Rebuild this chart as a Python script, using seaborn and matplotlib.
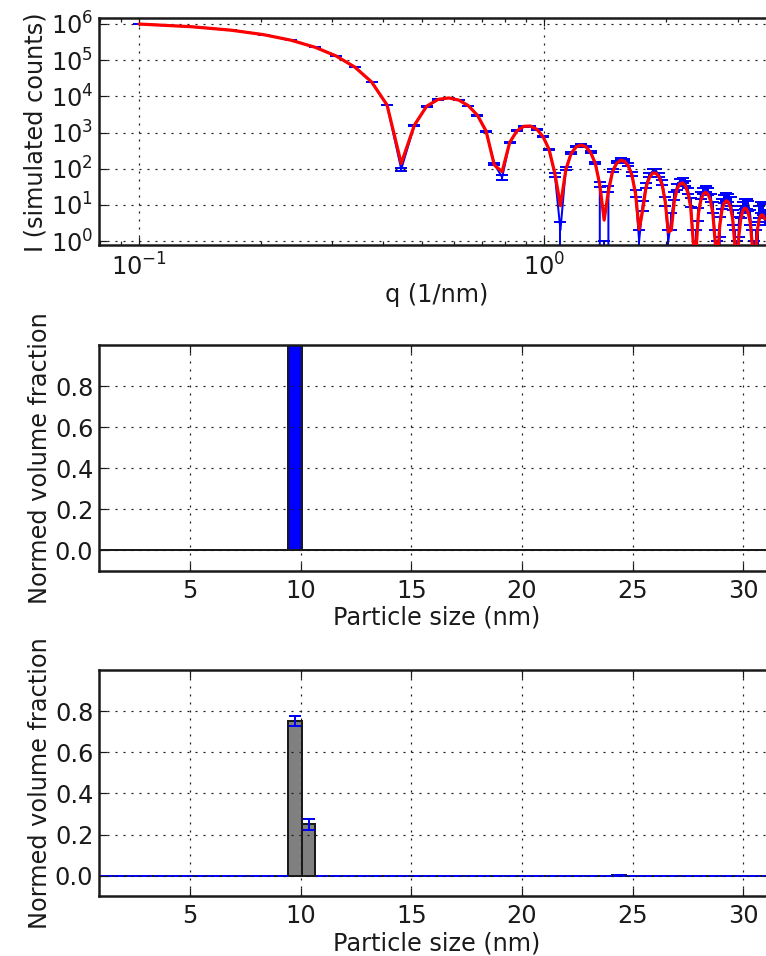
import numpy as np
import matplotlib
matplotlib.use("Agg")
import matplotlib.pyplot as plt
import seaborn as sns

# scattering vector (1/nm)
q = [0.1000, 0.1343, 0.1687, 0.2030, 0.2374, 0.2717, 0.3061, 0.3404, 0.3747, 0.4091,
     0.4434, 0.4778, 0.5121, 0.5465, 0.5808, 0.6152, 0.6495, 0.6838, 0.7182, 0.7525,
     0.7869, 0.8212, 0.8556, 0.8899, 0.9242, 0.9586, 0.9929, 1.0273, 1.0616, 1.0960,
     1.1303, 1.1646, 1.1990, 1.2333, 1.2677, 1.3020, 1.3364, 1.3707, 1.4051, 1.4394,
     1.4737, 1.5081, 1.5424, 1.5768, 1.6111, 1.6455, 1.6798, 1.7141, 1.7485, 1.7828,
     1.8172, 1.8515, 1.8859, 1.9202, 1.9545, 1.9889, 2.0232, 2.0576, 2.0919, 2.1263,
     2.1606, 2.1949, 2.2293, 2.2636, 2.2980, 2.3323, 2.3667, 2.4010, 2.4354, 2.4697,
     2.5040, 2.5384, 2.5727, 2.6071, 2.6414, 2.6758, 2.7101, 2.7444, 2.7788, 2.8131,
     2.8475, 2.8818, 2.9162, 2.9505, 2.9848, 3.0192, 3.0535, 3.0879, 3.1222, 3.1566,
     3.1909, 3.2253, 3.2596, 3.2939, 3.3283, 3.3626, 3.3970, 3.4313, 3.4657, 3.5000]

# simulated counts and their uncertainties
counts = [995900, 842000, 673300, 506100, 354200, 227500, 131000, 64710, 24990, 5766,
          97, 1581, 5309, 8225, 9041, 7860, 5514, 2998, 1089, 135,
          58, 521, 1106, 1486, 1514, 1224, 772, 341, 69, 2,
          101, 271, 415, 467, 413, 286, 143, 38, 0, 28,
          90, 153, 186, 176, 131, 72, 21, 1, 10, 35,
          67, 86, 87, 68, 41, 13, 1, 4, 18, 32,
          45, 47, 39, 25, 12, 1, 1, 6, 19, 25,
          28, 24, 16, 9, 1, 0, 3, 11, 15, 17,
          16, 13, 5, 1, 0, 3, 7, 9, 11, 11,
          10, 5, 1, 0, 1, 2, 7, 9, 8, 5]

count_err = [998, 918, 821, 711, 595, 477, 362, 254, 158, 76,
             9.8, 39.8, 72.9, 90.7, 95.1, 88.7, 74.3, 54.8, 33.0, 11.6,
             7.6, 22.8, 33.3, 38.5, 38.9, 35.0, 27.8, 18.5, 8.3, 1.4,
             10.0, 16.5, 20.4, 21.6, 20.3, 16.9, 12.0, 6.2, 1.0, 5.3,
             9.5, 12.4, 13.6, 13.3, 11.4, 8.5, 4.6, 1.0, 3.2, 5.9,
             8.2, 9.3, 9.3, 8.2, 6.4, 3.6, 1.0, 2.0, 4.2, 5.7,
             6.7, 6.9, 6.2, 5.0, 3.5, 1.0, 1.0, 2.4, 4.4, 5.0,
             5.3, 4.9, 4.0, 3.0, 1.0, 1.0, 1.7, 3.3, 3.9, 4.1,
             4.0, 3.6, 2.2, 1.0, 1.0, 1.7, 2.6, 3.0, 3.3, 3.3,
             3.2, 2.2, 1.0, 1.0, 1.0, 1.4, 2.6, 3.0, 2.8, 2.2]

# model fit intensity
fit = [995900, 842000, 673300, 506100, 354200, 227500, 131000, 64710, 24990, 5766,
       140, 1600, 5309, 8216, 9041, 7864, 5514, 2998, 1100, 127,
       83, 530, 1106, 1486, 1514, 1224, 772, 341, 75, 9.5,
       95, 263, 403, 453, 400, 277, 139, 36, 3.8, 24,
       82.5, 140.7, 170.8, 161.6, 120.2, 66.1, 20, 2.1, 7.0, 30.7,
       57.9, 75.3, 75.4, 59.5, 35.3, 12, 1.8, 2.0, 12, 27.6,
       38.2, 40.3, 33.5, 21.2, 8.5, 0.9, 0.45, 5.8, 13.7, 20.2,
       22.3, 19.4, 13.0, 5.6, 0.9, 0.3, 2.6, 7.1, 11.2, 13.0,
       11.9, 8.4, 4.2, 0.9, 0.1, 1.3, 4.0, 6.7, 8.1, 7.7,
       5.7, 3.1, 0.8, 0.05, 0.6, 2.3, 4.2, 5.3, 5.2, 4.1]

# size histogram bins (nm)
size_bins = [1.20, 1.81, 2.42, 3.03, 3.64, 4.25, 4.87, 5.48, 6.09, 6.70,
             7.31, 7.92, 8.53, 9.14, 9.75, 10.36, 10.97, 11.58, 12.19, 12.80,
             13.41, 14.02, 14.63, 15.24, 15.85, 16.46, 17.07, 17.68, 18.29, 18.90,
             19.51, 20.12, 20.73, 21.35, 21.96, 22.57, 23.18, 23.79, 24.40, 25.01,
             25.62, 26.23, 26.84, 27.45, 28.06, 28.67, 29.28, 29.89, 30.50, 31.11]
size_min, size_max = 0.8976, 31.416

vf_true = [0.0] * 50
vf_true[14] = 1.0

vf_fit = [0.0] * 50
vf_fit[14] = 0.75
vf_fit[15] = 0.25
vf_fit[38] = 0.003

vf_err = [0.0] * 50
vf_err[14] = 0.024
vf_err[15] = 0.026
vf_err[38] = 0.002

BLUE = "#0000ff"
RED = "#ff0000"
GREY = "#808080"

sns.set_theme(style="white", rc={
    "font.size": 12, "axes.labelsize": 12,
    "xtick.labelsize": 12, "ytick.labelsize": 12,
    "axes.edgecolor": "k", "axes.linewidth": 1.25,
    "axes.labelcolor": "k", "text.color": "k",
    "xtick.color": "k", "ytick.color": "k",
    "xtick.direction": "in", "ytick.direction": "in",
    "xtick.top": True, "ytick.right": True,
    "xtick.bottom": True, "ytick.left": True,
    "xtick.major.size": 4, "ytick.major.size": 4,
    "xtick.minor.size": 2, "ytick.minor.size": 2,
    "xtick.major.width": 0.6, "ytick.major.width": 0.6,
    "xtick.minor.width": 0.6, "ytick.minor.width": 0.6,
    "xtick.major.pad": 4, "ytick.major.pad": 3,
    "axes.labelpad": 1.5,
    "grid.color": "k", "grid.linestyle": ":", "grid.linewidth": 0.6,
    "lines.scale_dashes": False, "lines.dotted_pattern": [1, 3],
})
plt.rcParams["font.family"] = ["DejaVu Sans"]

dpi = 144
fig = plt.figure(figsize=(766 / dpi, 956 / dpi), dpi=dpi)
ax1 = fig.add_axes([0.1296, 0.7437, 0.8815, 0.2371])
ax2 = fig.add_axes([0.1296, 0.4032, 0.8815, 0.2359])
ax3 = fig.add_axes([0.1296, 0.0624, 0.8815, 0.2369])

# scattering curve: data with error bars, fit on top
ax1.set_xscale("log")
ax1.set_yscale("log")
ax1.errorbar(q, counts, yerr=count_err, fmt="-", color=BLUE, lw=1,
             capsize=3, capthick=1, zorder=2)
sns.lineplot(x=q, y=fit, color=RED, lw=1.6, estimator=None, sort=False,
             zorder=4, ax=ax1)
ax1.set_xlim(0.0797, 3.70)
ax1.set_ylim(0.78, 1.43e6)
ax1.set_yticks([1, 10, 100, 1e3, 1e4, 1e5, 1e6])
ax1.grid(True, which="major")
ax1.set_axisbelow(False)
ax1.set_xlabel("q (1/nm)")
ax1.set_ylabel("I (simulated counts)")

# true size distribution
sns.histplot(x=size_bins, weights=vf_true, bins=50, binrange=(size_min, size_max),
             color=BLUE, alpha=1, edgecolor="k", linewidth=1, ax=ax2)

# retrieved size distribution
sns.histplot(x=size_bins, weights=vf_fit, bins=50, binrange=(size_min, size_max),
             color=GREY, alpha=1, edgecolor="k", linewidth=1, ax=ax3)
ax3.errorbar(size_bins, vf_fit, yerr=vf_err, fmt="none", ecolor=BLUE,
             elinewidth=1, capsize=3, capthick=1)

for ax in (ax2, ax3):
    ax.set_xlim(size_min, size_max)
    ax.set_ylim(-0.1, 1.0)
    ax.set_xticks([5, 10, 15, 20, 25, 30])
    ax.set_yticks([0.0, 0.2, 0.4, 0.6, 0.8])
    ax.grid(True)
    ax.set_axisbelow(False)
    ax.set_xlabel("Particle size (nm)")
    ax.set_ylabel("Normed volume fraction")

fig.savefig("out.png", dpi=dpi)
